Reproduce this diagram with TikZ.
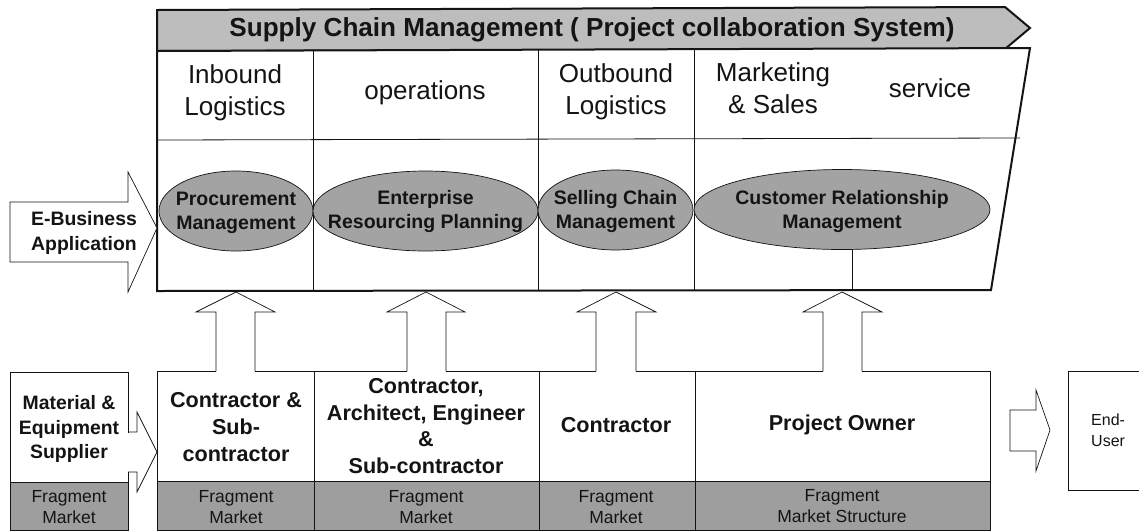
\documentclass[tikz,border=0pt]{standalone}
\usepackage{fontspec}
\usetikzlibrary{shapes.geometric}
\setmainfont{Liberation Sans}
\definecolor{bandgray}{gray}{0.62}
\definecolor{ellgray}{gray}{0.64}
\definecolor{titlegray}{gray}{0.74}
\definecolor{ink}{gray}{0.08}
\newcommand{\fs}[1]{\fontsize{#1}{#1}\selectfont}
\tikzset{
  x=1pt,y=-1pt,
  heavy/.style={draw=ink,line width=2pt,line join=miter},
  thin line/.style={draw=ink,line width=0.8pt},
  blockarrow/.style={draw=ink,line width=0.7pt,fill=white,line join=miter},
  oval/.style={ellipse,draw=ink,line width=0.7pt,fill=ellgray,inner sep=0pt,minimum width=#1,text=ink,align=center,minimum height=80pt},
  headtxt/.style={align=center,text=ink,font=\fs{26},inner sep=0pt},
  ovaltxt/.style={font=\bfseries\fs{19.5},align=center,text=ink,inner sep=0pt},
  roletxt/.style={align=center,text=ink,font=\bfseries\fs{21.6},inner sep=0pt},
  fragtxt/.style={align=center,text=ink,font=\fs{17.5},inner sep=0pt},
}
\begin{document}
\begin{tikzpicture}
\useasboundingbox (0,0) rectangle (1139,531);
\fill[white] (0,0) rectangle (1139,531);
% bottom bands
\fill[bandgray] (157,481) rectangle (990,530);
\fill[bandgray] (10,482) rectangle (128,530);
\draw[thin line] (157,530) -- (157,371) -- (990,371) -- (990,530) -- cycle;
\draw[thin line] (157,481) -- (990,481);
\draw[thin line] (314,371) -- (314,530);
\draw[thin line] (539,371) -- (539,530);
\draw[thin line] (695,371) -- (695,530);
\draw[thin line] (10,372) rectangle (128,530);
\draw[thin line] (10,482) -- (128,482);
% title pentagon
\draw[heavy,fill=titlegray] (157,10) -- (1005,7) -- (1030,28) -- (1005,49) -- (157,51) -- cycle;
% main trapezoid
\draw[heavy,fill=white] (157,51) -- (1030,48) -- (991,290) -- (157,291) -- cycle;
\draw[thin line] (157,140) -- (1020,138);
\draw[thin line] (313,51) -- (313,291);
\draw[thin line] (538,50) -- (538,291);
\draw[thin line] (694,50) -- (694,291);
% ovals
\node[oval=154pt] (e1) at (236,211) {};
\node[oval=225pt] (e2) at (425.5,211) {};
\node[oval=155pt] (e3) at (615.5,210) {};
\node[oval=296pt] (e4) at (842,209.5) {};
\coordinate (crmfoot) at (852,290);
\draw[thin line] (852,249) -- (crmfoot);
% block arrows
\draw[blockarrow] (10,202) -- (128,202) -- (128,172) -- (157,228) -- (128,292) -- (128,262) -- (10,262) -- cycle;
\foreach \n/\t/\a/\b/\c/\d in {u1/236/196/216/255/275,u2/426/387/407/446/465,u3/616/577/596/636/656,u4/842/803/823/862/882}{
  \fill[white] (\b,372.5) rectangle (\c,312);
  \draw[blockarrow,fill=none] (\b,371.4) -- (\b,312) -- (\a,312) -- (\t,292) -- (\d,312) -- (\c,312) -- (\c,371.4);
}
\fill[white] (127,432.5) rectangle (137,471.5);
\fill[white] (137,412) -- (157,452) -- (137,492) -- cycle;
\draw[blockarrow,fill=none] (128,432) -- (137,432) -- (137,412) -- (157,452) -- (137,492) -- (137,472) -- (128,472);
\draw[blockarrow] (1010,410) -- (1036,410) -- (1036,390) -- (1050,430) -- (1036,471) -- (1036,451) -- (1010,451) -- cycle;
% end-user box
\draw[thin line] (1139,371) -- (1068,371) -- (1068,490) -- (1139,490);
% texts
\node[font=\bfseries\fs{26.1},text=ink,inner sep=0pt] (title) at (592,30) {Supply Chain Management ( Project collaboration System)};
\node[headtxt] (h1) at (235,93) {Inbound\\[6pt]Logistics};
\node[headtxt] (h2) at (425,92.5) {operations};
\node[headtxt] (h3) at (616,91.5) {Outbound\\[6pt]Logistics};
\node[headtxt] (h4) at (773,88) {Marketing\\[6pt]\& Sales};
\node[headtxt] (h5) at (930,88) {service};
\node[ovaltxt] (t1) at (236,213) {Procurement\\[4.5pt]Management};
\node[ovaltxt] (t2) at (425.5,211.5) {Enterprise\\[4.5pt]Resourcing Planning};
\node[ovaltxt] (t3) at (615.5,211) {Selling Chain\\[4.5pt]Management};
\node[ovaltxt] (t4) at (842,211.5) {Customer Relationship\\[4.5pt]Management};
\node[font=\bfseries\fs{19.4},align=center,text=ink,inner sep=0pt] (ebiz) at (84,233) {E-Business\\[5.5pt]Application};
\node[font=\bfseries\fs{19.4},align=center,text=ink,inner sep=0pt] (mat) at (69,429) {Material \&\\[5pt]Equipment\\[5pt]Supplier};
\node[roletxt] (r1) at (236,427) {Contractor \&\\[5.4pt]Sub-\\[5.4pt]contractor};
\node[roletxt] (r2) at (426,426) {Contractor,\\[5.1pt]Architect, Engineer\\[5.1pt]\&\\[5.1pt]Sub-contractor};
\node[roletxt] (r3) at (616,425) {Contractor};
\node[roletxt] (r4) at (842,425) {Project Owner};
\node[fragtxt] (f0) at (69,507.5) {Fragment\\[3.5pt]Market};
\node[fragtxt] (f1) at (236,507.5) {Fragment\\[3.5pt]Market};
\node[fragtxt] (f2) at (426,507) {Fragment\\[3.5pt]Market};
\node[fragtxt] (f3) at (616,507) {Fragment\\[3.5pt]Market};
\node[fragtxt] (f4) at (842,506.5) {Fragment\\[3.5pt]Market Structure};
\node[font=\fs{16},align=left,text=ink,inner sep=0pt,anchor=west] (eu) at (1091,430) {End-\\[5pt]User};
\end{tikzpicture}
\end{document}
